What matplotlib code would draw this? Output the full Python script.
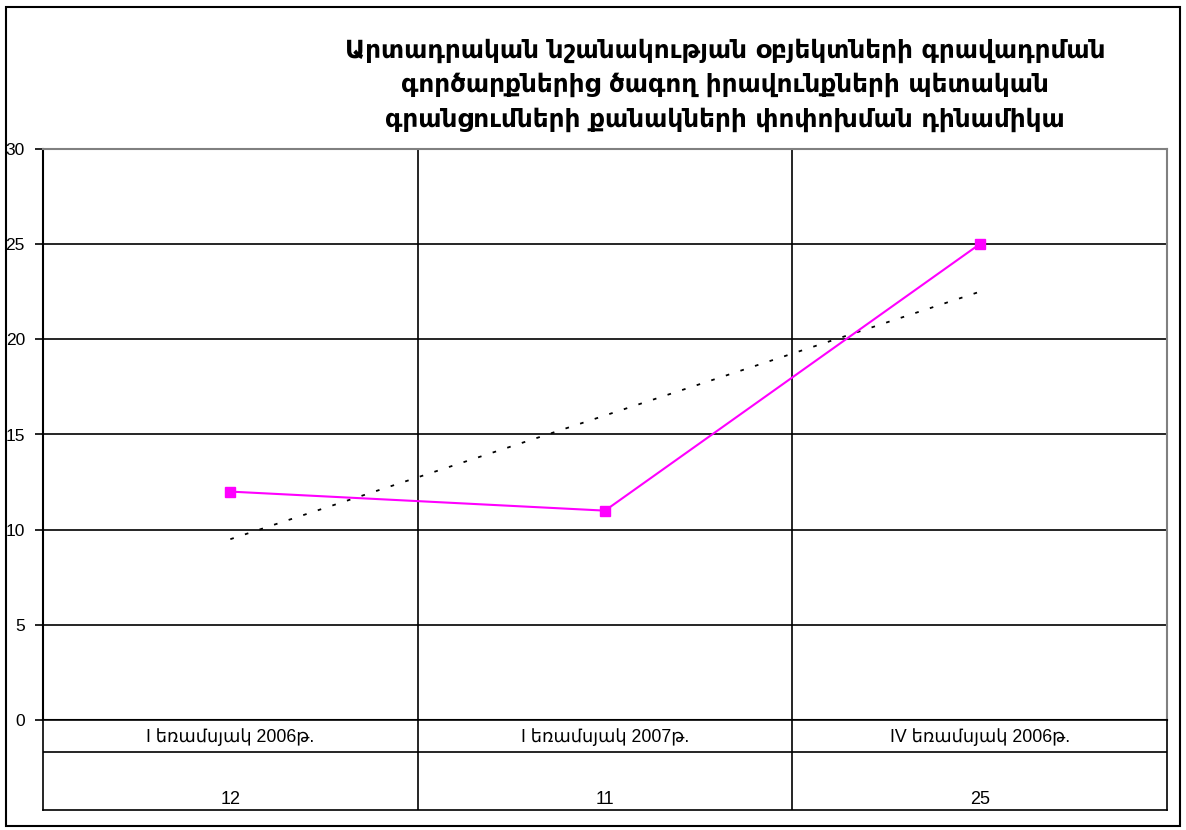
import numpy as np
import matplotlib.pyplot as plt
from matplotlib.patches import Rectangle

# Data
title = ("Արտադրական նշանակության օբյեկտների գրավադրման\n"
         "գործարքներից ծագող իրավունքների պետական\n"
         "գրանցումների քանակների փոփոխման դինամիկա")
quarters = ["I եռամսյակ 2006թ.", "I եռամսյակ 2007թ.", "IV եռամսյակ 2006թ."]
counts = [12, 11, 25]
y_ticks = [0, 5, 10, 15, 20, 25, 30]

W, H = 1186, 830
fig = plt.figure(figsize=(W / 100, H / 100), dpi=100)
fam = ['Liberation Sans', 'DejaVu Sans']

# plot area in pixels
x0, x1, ytop, ybot = 43, 1167, 149, 720
ax = fig.add_axes([x0 / W, 1 - ybot / H, (x1 - x0) / W, (ybot - ytop) / H])

xs = np.arange(len(counts)) + 0.5
ax.set_xlim(0, len(counts))
ax.set_ylim(0, 30)

# grid
for v in y_ticks[1:-1]:
    ax.axhline(v, color='black', lw=1.2, zorder=1)
for i in range(1, len(counts)):
    ax.axvline(i, color='black', lw=1.2, zorder=1)

# series + linear trend
ax.plot(xs, counts, color='#ff00ff', lw=1.5, marker='s', ms=7,
        mfc='#ff00ff', mec='#ff00ff', zorder=3)
k, b = np.polyfit(xs, counts, 1)
ax.plot(xs[[0, -1]], k * xs[[0, -1]] + b, color='black', lw=1.3,
        linestyle=(0, (2, 6.5)), zorder=2)

ax.set_xticks([])
ax.set_yticks(y_ticks)
ax.set_yticklabels([str(v) for v in y_ticks], family=fam, fontsize=12.5)
ax.tick_params(axis='y', length=6, width=1.2, pad=7, direction='out')
ax.spines['left'].set_linewidth(1.5)
ax.spines['bottom'].set_linewidth(1.5)
for s in ['top', 'right']:
    ax.spines[s].set_color('#808080')
    ax.spines[s].set_linewidth(1.5)

# data table below the plot
tb = 810
tab = fig.add_axes([x0 / W, 1 - tb / H, (x1 - x0) / W, (tb - ybot) / H])
tab.set_xlim(0, len(counts))
tab.set_ylim(tb - ybot, 0)
tab.set_xticks([])
tab.set_yticks([])
for s in tab.spines.values():
    s.set_linewidth(1.2)
tab.axhline(752 - ybot, color='black', lw=1.2)
for i in range(1, len(counts)):
    tab.axvline(i, color='black', lw=1.2)
for x, q, c in zip(xs, quarters, counts):
    tab.text(x, 737 - ybot, q, ha='center', va='center', fontsize=12.8, family=fam)
    tab.text(x, 808 - ybot, str(c), ha='center', va='bottom', fontsize=13, family=fam)

fig.text(725 / W, 1 - 85 / H, title, ha='center', va='center', fontsize=17.8,
         fontweight='bold', family='DejaVu Sans', linespacing=1.52)

# outer border
fig.patches.append(Rectangle((6 / W, 1 - 826 / H), 1174 / W, 819 / H,
                             transform=fig.transFigure, fill=False,
                             edgecolor='black', lw=1.5))

fig.savefig('out.png', dpi=100)
